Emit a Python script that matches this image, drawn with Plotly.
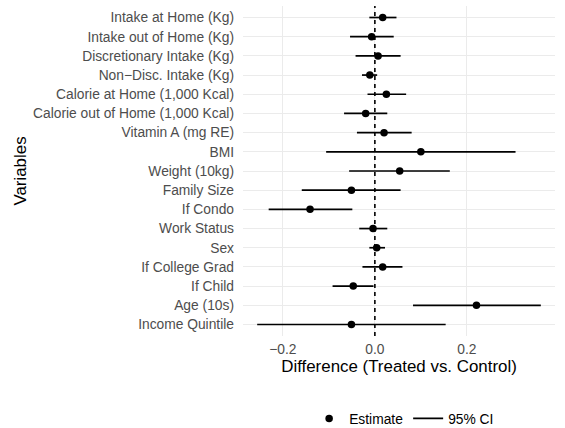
import plotly.graph_objects as go

# Covariate / outcome labels, listed top to bottom
variables = [
    "Intake at Home (Kg)",
    "Intake out of Home (Kg)",
    "Discretionary Intake (Kg)",
    "Non\u2212Disc. Intake (Kg)",
    "Calorie at Home (1,000 Kcal)",
    "Calorie out of Home (1,000 Kcal)",
    "Vitamin A (mg RE)",
    "BMI",
    "Weight (10kg)",
    "Family Size",
    "If Condo",
    "Work Status",
    "Sex",
    "If College Grad",
    "If Child",
    "Age (10s)",
    "Income Quintile",
]

# Point estimates of the treated - control difference
estimate = [0.017, -0.007, 0.007, -0.011, 0.025, -0.020, 0.020, 0.100,
            0.054, -0.051, -0.141, -0.004, 0.004, 0.017, -0.047, 0.221, -0.051]

# 95% confidence interval bounds
ci_low = [-0.012, -0.054, -0.042, -0.028, -0.016, -0.067, -0.039, -0.106,
          -0.056, -0.159, -0.231, -0.034, -0.012, -0.027, -0.092, 0.083, -0.256]
ci_high = [0.047, 0.041, 0.056, 0.005, 0.068, 0.027, 0.080, 0.306,
           0.163, 0.056, -0.049, 0.027, 0.022, 0.060, -0.003, 0.361, 0.154]

x_ticks = [-0.2, 0.0, 0.2]
x_tick_text = ["\u22120.2", "0.0", "0.2"]

FONT = "Liberation Sans, Arial, Helvetica, sans-serif"
TICK_SIZE = 13.8
TITLE_SIZE = 16.9

# CI segments as one line trace, broken with None between rows
seg_x, seg_y = [], []
for v, lo, hi in zip(variables, ci_low, ci_high):
    seg_x += [lo, hi, None]
    seg_y += [v, v, None]

fig = go.Figure()
fig.add_trace(go.Scatter(
    x=estimate, y=variables, mode="markers", name="Estimate",
    marker=dict(color="black", size=7.5),
))
fig.add_trace(go.Scatter(
    x=seg_x, y=seg_y, mode="lines", name="95% CI",
    line=dict(color="black", width=1.7),
))

# zero reference line
fig.add_shape(type="line", xref="x", yref="paper", x0=0, x1=0, y0=0, y1=1,
              line=dict(color="black", width=1.6, dash="4px,4px"), layer="above")

span = max(ci_high) - min(ci_low)
fig.update_layout(
    width=565, height=428,
    margin=dict(l=243, r=10, t=6, b=92, autoexpand=False),
    paper_bgcolor="white", plot_bgcolor="white",
    font=dict(family=FONT, color="black"),
    showlegend=True,
    legend=dict(orientation="h", x=0.212, xanchor="left", y=-0.25, yanchor="middle",
                font=dict(size=TICK_SIZE, color="black"), itemwidth=30,
                traceorder="normal"),
    xaxis=dict(
        range=[min(ci_low) - 0.05 * span, max(ci_high) + 0.05 * span],
        tickmode="array", tickvals=x_ticks, ticktext=x_tick_text,
        showgrid=True, gridcolor="#ebebeb", gridwidth=1.1,
        zeroline=False, showline=False, ticks="",
        automargin=False, ticklabelstandoff=3,
        tickfont=dict(size=TICK_SIZE, color="#4d4d4d"),
        title=dict(text="Difference (Treated vs. Control)",
                   font=dict(size=TITLE_SIZE, color="black"), standoff=4),
    ),
    yaxis=dict(
        type="category", categoryorder="array", categoryarray=variables[::-1],
        range=[-0.6, len(variables) - 0.4],
        showgrid=True, gridcolor="#ebebeb", gridwidth=1.1,
        zeroline=False, showline=False, ticks="",
        automargin=False, ticklabelstandoff=8,
        tickfont=dict(size=TICK_SIZE, color="#4d4d4d"),
        title=dict(text="Variables", font=dict(size=TITLE_SIZE, color="black"), standoff=2),
    ),
)

fig.write_html("out.html")
